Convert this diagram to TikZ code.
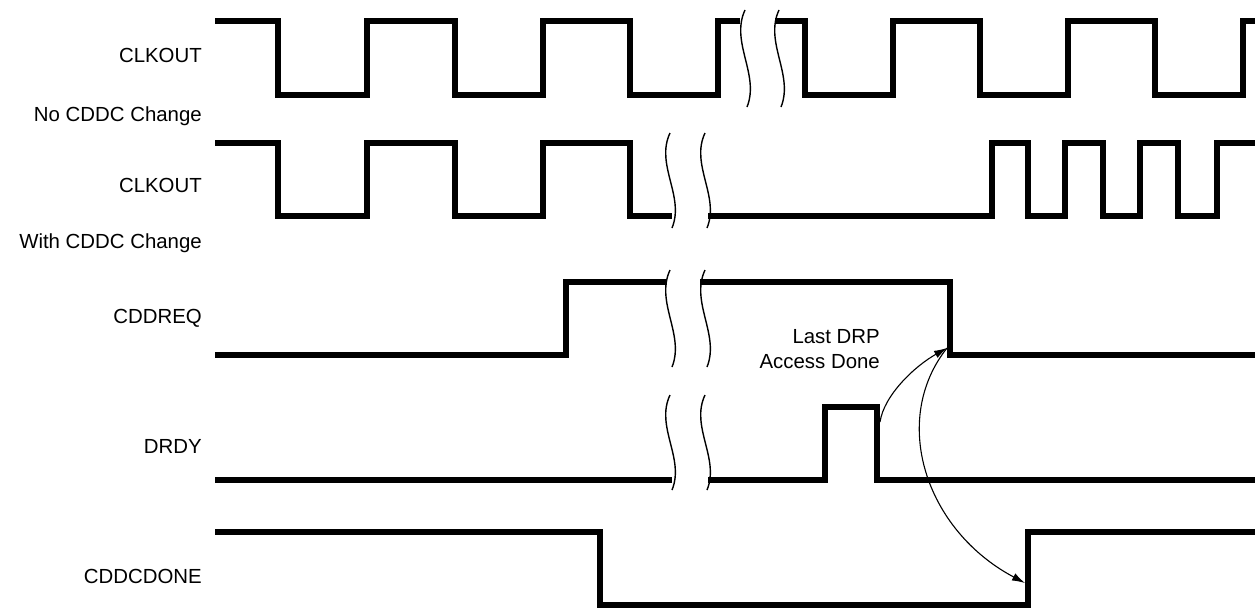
\documentclass[tikz,border=0pt]{standalone}
\usepackage{fontspec}
\setmainfont{Liberation Sans}
\usetikzlibrary{arrows.meta}
\tikzset{
  wave/.style={line width=5.5pt, line join=miter, line cap=butt, black},
  brk/.style={line width=1.4pt, black},
  lbl/.style={anchor=base east, inner sep=0pt, font=\fontsize{20.4}{24}\selectfont, text=black},
  conn/.style={line width=1.1pt, black, -{Latex[length=13pt,width=8pt]}}
}
\newcommand\wbrk[3]{%
  \begin{scope}[shift={(#1,#2)}]
    \draw[brk] (0,0) .. controls (-15,#3/3) and (15,2*#3/3) .. (2,#3);
  \end{scope}}
\begin{document}
\begin{tikzpicture}[x=1pt,y=-1pt]
\useasboundingbox (0,0) rectangle (1255,611);
% labels
\node[lbl] (l1) at (202,62) {CLKOUT};
\node[lbl] (l1b) at (202,121) {No CDDC Change};
\node[lbl] (l2) at (202,192) {CLKOUT};
\node[lbl] (l2b) at (202,248) {With CDDC Change};
\node[lbl] (l3) at (202,323) {CDDREQ};
\node[lbl] (l4) at (202,453) {DRDY};
\node[lbl] (l5) at (202,583) {CDDCDONE};
\node[lbl] (drp1) at (880,343) {Last DRP};
\node[lbl] (drp2) at (880,368) {Access Done};
% row 1
\draw[wave] (215,21)--(278,21)--(278,95)--(367,95)--(367,21)--(455,21)--(455,95)--(543,95)--(543,21)--(630,21)--(630,95)--(718,95)--(718,21)--(740,21);
\draw[wave] (775,21)--(805,21)--(805,95)--(893,95)--(893,21)--(980,21)--(980,95)--(1068,95)--(1068,21)--(1155,21)--(1155,95)--(1243,95)--(1243,21)--(1255,21);
\wbrk{745}{10}{97}
\wbrk{779}{10}{97}
% row 2
\draw[wave] (215,143)--(278,143)--(278,216)--(367,216)--(367,143)--(455,143)--(455,216)--(543,216)--(543,143)--(630,143)--(630,216)--(672,216);
\draw[wave] (708,216)--(992,216)--(992,143)--(1028,143)--(1028,216)--(1065,216)--(1065,143)--(1103,143)--(1103,216)--(1140,216)--(1140,143)--(1178,143)--(1178,216)--(1217,216)--(1217,143)--(1255,143);
\wbrk{670}{133}{95}
\wbrk{705}{133}{95}
% row 3
\draw[wave] (215,355)--(566,355)--(566,282)--(667,282);
\draw[wave] (700,282)--(950,282)--(950,355)--(1255,355);
\wbrk{670}{270}{97}
\wbrk{705}{270}{97}
% row 4
\draw[wave] (215,480)--(672,480);
\draw[wave] (708,480)--(825,480)--(825,407)--(877,407)--(877,480)--(1255,480);
\wbrk{670}{395}{95}
\wbrk{705}{395}{95}
% row 5
\draw[wave] (215,532)--(600,532)--(600,605)--(1028,605)--(1028,532)--(1255,532);
% connectors
\coordinate (drdyfall) at (880,422);
\coordinate (reqfall) at (947,348);
\coordinate (donerise) at (1025,583);
\draw[conn] (drdyfall) .. controls (884,395) and (915,366) .. (reqfall);
\draw[conn] (reqfall) .. controls (890,420) and (925,530) .. (donerise);
\end{tikzpicture}
\end{document}
